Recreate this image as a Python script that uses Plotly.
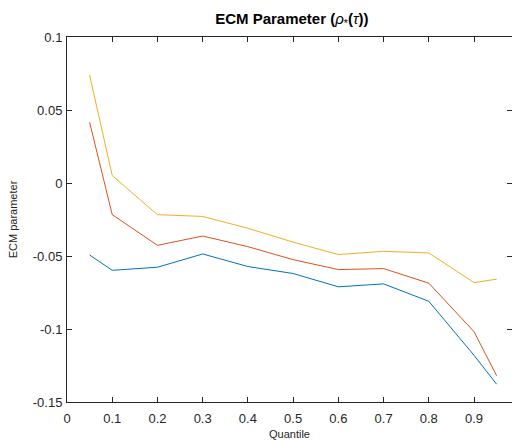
import plotly.graph_objects as go

quantiles = [0.05, 0.1, 0.2, 0.3, 0.4, 0.5, 0.6, 0.7, 0.8, 0.9, 0.95]
lower = [-0.0493, -0.0598, -0.0577, -0.0486, -0.0572, -0.0620, -0.0711, -0.0691, -0.0810, -0.1180, -0.1378]
estimate = [0.0416, -0.0217, -0.0427, -0.0363, -0.0436, -0.0525, -0.0593, -0.0586, -0.0686, -0.1018, -0.1320]
upper = [0.0739, 0.0051, -0.0217, -0.0229, -0.0310, -0.0405, -0.0490, -0.0468, -0.0479, -0.0682, -0.0659]
xticks = [0, 0.1, 0.2, 0.3, 0.4, 0.5, 0.6, 0.7, 0.8, 0.9]
yticks = [0.1, 0.05, 0, -0.05, -0.1, -0.15]

colors = ["#0072BD", "#D95319", "#EDB120"]
FONT = "Arial, Liberation Sans, sans-serif"

fig = go.Figure()
for ys, c in zip([lower, estimate, upper], colors):
    fig.add_trace(go.Scatter(x=quantiles, y=ys, mode="lines",
                             line=dict(color=c, width=1), showlegend=False,
                             hoverinfo="skip"))

axis_common = dict(
    showgrid=False, zeroline=False, showline=True, linecolor="#262626",
    linewidth=1, ticks="inside", ticklen=5, tickcolor="#262626",
    tickfont=dict(family=FONT, size=13, color="#262626"),
    mirror="ticks",
)

fig.update_layout(
    width=512, height=440,
    margin=dict(l=67, r=0, t=37, b=38),
    paper_bgcolor="white", plot_bgcolor="white",
    title=dict(text="<b>ECM Parameter (</b><i>ρ</i><sub>*</sub><b>(</b><i>τ</i><b>))</b>",
               x=0.57, xanchor="center", y=0.958, yanchor="middle",
               font=dict(family=FONT, size=15, color="black")),
    xaxis=dict(range=[0, 0.984], tickvals=xticks,
               ticktext=[("%g" % v) for v in xticks],
               ticklabelstandoff=4,
               title=dict(text="Quantile", standoff=6,
                          font=dict(family=FONT, size=11, color="#262626")),
               **axis_common),
    yaxis=dict(range=[-0.15, 0.1], tickvals=yticks,
               ticktext=[("%g" % v) for v in yticks],
               ticklabelstandoff=1,
               title=dict(text="ECM parameter", standoff=12,
                          font=dict(family=FONT, size=11, color="#262626")),
               **axis_common),
)

fig.write_html("out.html")
